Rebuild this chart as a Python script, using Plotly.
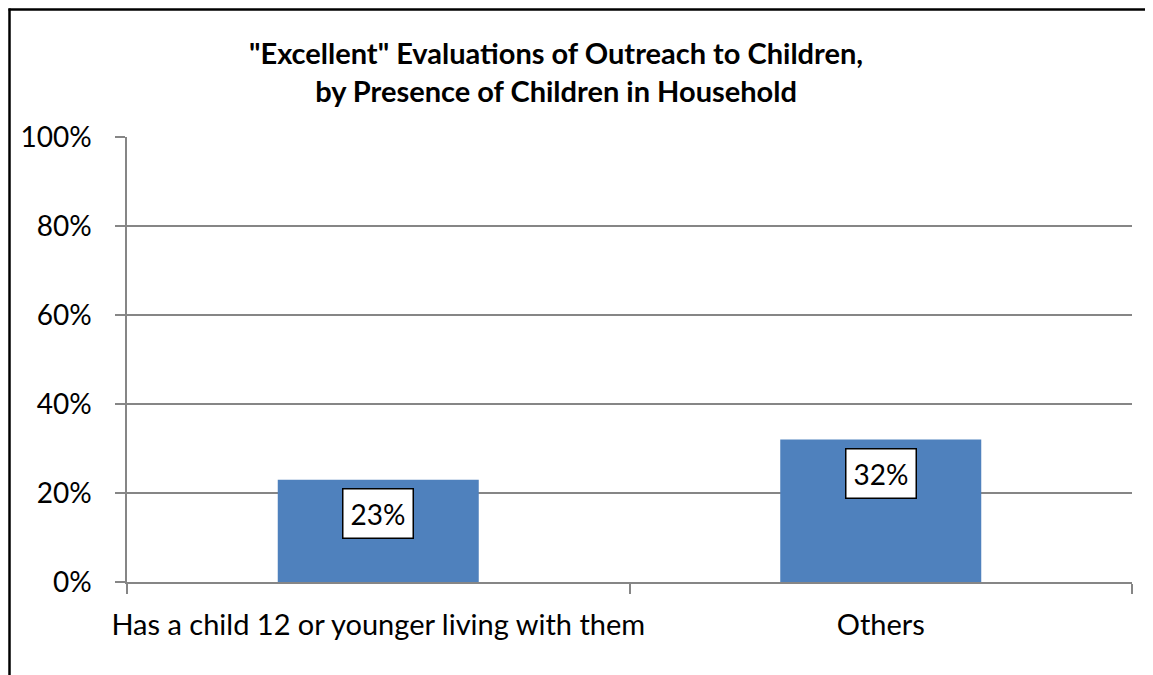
import plotly.graph_objects as go

categories = ["Has a child 12 or younger living with them", "Others"]
values = [0.23, 0.32]
label_texts = ["23%", "32%"]
y_ticks = [0, 0.2, 0.4, 0.6, 0.8, 1.0]
y_tick_labels = ["0%", "20%", "40%", "60%", "80%", "100%"]
title_text = "\"Excellent\" Evaluations of Outreach to Children,<br>by Presence of Children in Household"

FONT = "Lato, Carlito, Calibri, sans-serif"
GRID = "#868686"

# figure sits at an 8px page offset (default body margin)
W, H = 1145, 667
ML, MR, MT, MB = 119, 21, 129, 93
PW, PH = W - ML - MR, H - MT - MB

def px_x(p):
    return (p - ML) / PW

def px_y(p):
    return (H - MB - p) / PH

fig = go.Figure()
fig.add_trace(go.Bar(x=categories, y=values, marker=dict(color="#4F81BD", line=dict(width=0)),
                     width=0.4, hoverinfo="skip"))

for c, v, t in zip(categories, values, label_texts):
    fig.add_annotation(x=c, y=v, text=t, showarrow=False, yanchor="top", yshift=-8,
                       bgcolor="white", bordercolor="black", borderwidth=1.5, borderpad=7,
                       font=dict(family=FONT, size=28, color="black"))

fig.add_annotation(xref="paper", yref="paper", x=px_x(548), y=px_y(25),
                   xanchor="center", yanchor="top", showarrow=False, align="center",
                   text="<b>" + title_text.replace("<br>", "</b><br><b>") + "</b>",
                   font=dict(family=FONT, size=29, color="black"))

border = dict(color="black", width=2.5)
fig.update_layout(
    width=W, height=H,
    margin=dict(l=ML, r=MR, t=MT, b=MB),
    paper_bgcolor="white", plot_bgcolor="white",
    showlegend=False,
    font=dict(family=FONT, size=28, color="black"),
    xaxis=dict(showgrid=False, showline=True, linecolor=GRID, linewidth=1.5,
               ticks="outside", tickson="boundaries", ticklen=10, tickcolor=GRID, tickwidth=1.5,
               ticklabelstandoff=16, tickangle=0, automargin=False,
               tickfont=dict(family=FONT, size=29)),
    yaxis=dict(range=[0, 1], tickvals=y_ticks, ticktext=y_tick_labels,
               showgrid=True, gridcolor=GRID, gridwidth=1.5,
               showline=True, linecolor=GRID, linewidth=1.5,
               ticks="outside", ticklen=10, tickcolor=GRID, tickwidth=1.5,
               ticklabelstandoff=18, automargin=False,
               tickfont=dict(family=FONT, size=28), zeroline=False),
    shapes=[
        dict(type="line", xref="paper", yref="paper",
             x0=px_x(0.5), x1=px_x(W), y0=px_y(1.5), y1=px_y(1.5), line=border, layer="above"),
        dict(type="line", xref="paper", yref="paper",
             x0=px_x(1.5), x1=px_x(1.5), y0=px_y(0.5), y1=px_y(H), line=border, layer="above"),
    ],
)

fig.write_html("out.html")
